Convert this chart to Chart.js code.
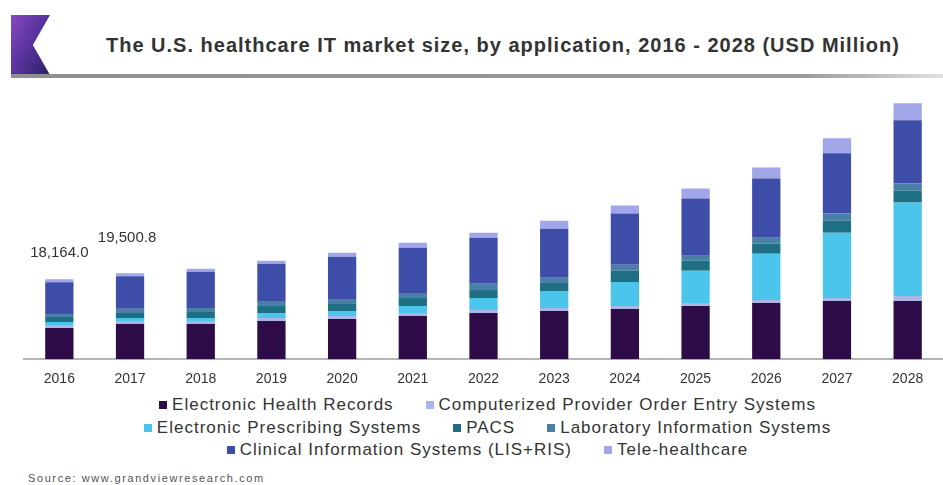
<!DOCTYPE html>
<html>
<head>
<meta charset="utf-8">
<script src="https://cdn.jsdelivr.net/npm/chart.js@4.4.0/dist/chart.umd.min.js"></script>
<style>
  html, body { margin: 0; padding: 0; background: #fff; }
  body { width: 943px; height: 485px; position: relative; overflow: hidden; font-family: "Liberation Sans", Arial, sans-serif; }
  #logo { position: absolute; left: 11px; top: 15px; width: 39px; height: 60px;
    background: linear-gradient(120deg, #8a48c0 0%, #5b35a0 45%, #2a1f66 100%);
    clip-path: polygon(0 0, 100% 0, 56% 50%, 100% 100%, 0 100%); }
  #title { position: absolute; left: 106px; top: 34px; font-weight: bold; font-size: 20px; color: #333; white-space: nowrap; letter-spacing: 1px; }
  #rule { position: absolute; left: 11px; top: 74px; width: 932px; height: 4px; background: linear-gradient(90deg, #8f8f8f 0%, #9a9a9a 85%, #e0e0e0 100%); }
  #wrap { position: absolute; left: 0; top: 85px; width: 943px; height: 307px; }
  #legend { position: absolute; left: 16px; top: 394px; width: 943px; font-size: 17px; letter-spacing: 1px; color: #333; }
  .row { display: flex; justify-content: center; height: 22.5px; align-items: center; }
  .item { display: flex; align-items: center; margin: 0 16px; white-space: nowrap; }
  .sw { width: 8px; height: 8px; margin-right: 5px; }
  #source { position: absolute; left: 28px; top: 472px; font-size: 11px; letter-spacing: 1.6px; color: #555; }
</style>
</head>
<body>
<div id="logo"></div>
<div id="title">The U.S. healthcare IT market size, by application, 2016 - 2028 (USD Million)</div>
<div id="rule"></div>
<div id="wrap"><canvas id="c" width="943" height="307"></canvas></div>
<div id="legend"></div>
<div id="source">Source: www.grandviewresearch.com</div>
<script>
const years = ["2016","2017","2018","2019","2020","2021","2022","2023","2024","2025","2026","2027","2028"];
const ehr   = [7070, 7980, 7980, 8660, 9120, 9800, 10490, 10940, 11400, 12080, 12770, 13220, 13220];
const cpoe  = [680, 690, 690, 690, 690, 690, 690, 690, 690, 690, 690, 690, 1140];
const eps   = [690, 700, 700, 1140, 1140, 1600, 2740, 3880, 5470, 7300, 10490, 14820, 21200];
const pacs  = [1140, 1150, 1370, 1600, 1600, 1820, 1820, 1820, 2510, 2280, 2280, 2740, 2740];
const lis   = [690, 910, 910, 1140, 1140, 1140, 1370, 1140, 1370, 1140, 1370, 1600, 1600];
const cis   = [7210, 7390, 8200, 8440, 9580, 10260, 10490, 11170, 11630, 13000, 13450, 13680, 14360];
const tele  = [684, 680.8, 690, 700, 910, 1140, 1140, 1820, 1820, 2280, 2510, 3420, 3880];
const seriesNames = ["Electronic Health Records", "Computerized Provider Order Entry Systems", "Electronic Prescribing Systems", "PACS", "Laboratory Information Systems", "Clinical Information Systems (LIS+RIS)", "Tele-healthcare"];
const labelledYears = [0, 1];
const legendRows = [[0, 1], [2, 3, 4], [5, 6]];

const colors = ["#2d0c47", "#aab5e6", "#4cc5ec", "#1f6f82", "#4a80a8", "#3e4ea8", "#a0a6e8"];
const seriesData = [ehr, cpoe, eps, pacs, lis, cis, tele];

const datasets = seriesData.map((d, i) => ({
  label: seriesNames[i], data: d, backgroundColor: colors[i],
  barPercentage: 0.4, categoryPercentage: 1.0, borderWidth: 0
}));

const totals = years.map((_, i) => seriesData.reduce((s, arr) => s + arr[i], 0));
const labelOffsets = [26, 35];
const labelShiftX = [0, -3];

const totalLabels = {
  id: 'totalLabels',
  afterDatasetsDraw(chart) {
    const ctx = chart.ctx;
    const meta = chart.getDatasetMeta(chart.data.datasets.length - 1);
    ctx.save();
    ctx.font = '15px "Liberation Sans", Arial, sans-serif';
    ctx.fillStyle = '#333';
    ctx.textAlign = 'center';
    ctx.textBaseline = 'middle';
    labelledYears.forEach((idx, k) => {
      const el = meta.data[idx];
      const txt = totals[idx].toLocaleString('en-US', {minimumFractionDigits: 1, maximumFractionDigits: 1});
      ctx.fillText(txt, el.x + labelShiftX[k], el.y - labelOffsets[k]);
    });
    ctx.restore();
  }
};

new Chart(document.getElementById('c'), {
  type: 'bar',
  data: { labels: years, datasets },
  options: {
    responsive: false, animation: false,
    layout: { padding: { left: 24, right: 0, top: 10, bottom: 0 } },
    plugins: { legend: { display: false }, tooltip: { enabled: false } },
    scales: {
      x: { stacked: true, grid: { display: false },
           border: { display: true, color: '#b5b5b5', width: 2 },
           ticks: { color: '#333', font: { size: 14, family: '"Liberation Sans", Arial, sans-serif' }, padding: 4 } },
      y: { stacked: true, display: false, min: 0, max: 60000 }
    }
  },
  plugins: [totalLabels]
});

const legend = document.getElementById('legend');
legendRows.forEach(row => {
  const r = document.createElement('div'); r.className = 'row';
  row.forEach(i => {
    const it = document.createElement('div'); it.className = 'item';
    const sw = document.createElement('span'); sw.className = 'sw'; sw.style.background = colors[i];
    const tx = document.createElement('span'); tx.textContent = seriesNames[i];
    it.appendChild(sw); it.appendChild(tx); r.appendChild(it);
  });
  legend.appendChild(r);
});
</script>
</body>
</html>
